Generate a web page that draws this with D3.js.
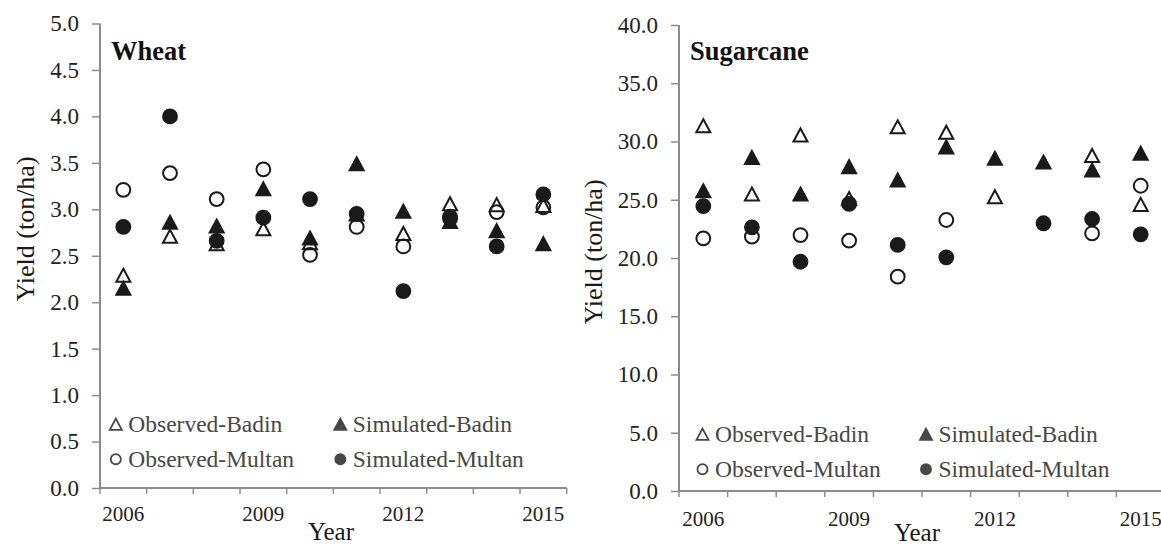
<!DOCTYPE html>
<html>
<head>
<meta charset="utf-8">
<style>
  html, body { margin: 0; padding: 0; background: #fff; }
  svg, svg text { font-family: "Liberation Serif", "Times New Roman", serif; }
  svg { display: block; }
</style>
</head>
<body>
<svg width="1161" height="544"></svg>
<script src="https://d3js.org/d3.v7.min.js"></script>
<script>

var years = [2006, 2007, 2008, 2009, 2010, 2011, 2012, 2013, 2014, 2015],
    yearLabels = [2006, 2009, 2012, 2015];

var seriesNames = ["Observed-Badin", "Simulated-Badin", "Observed-Multan", "Simulated-Multan"];

// Wheat yields (ton/ha)
var wheatObsBadin  = [2.29, 2.71, 2.63, 2.79, 2.64, 2.95, 2.74, 3.06, 3.05, 3.04],
    wheatSimBadin  = [2.15, 2.86, 2.82, 3.22, 2.69, 3.49, 2.98, 2.87, 2.77, 2.63],
    wheatObsMultan = [3.21, 3.39, 3.11, 3.43, 2.51, 2.81, 2.60, 2.92, 2.97, 3.02],
    wheatSimMultan = [2.81, 4.00, 2.66, 2.91, 3.11, 2.95, 2.12, 2.90, 2.60, 3.16];

// Sugarcane yields (ton/ha)
var caneObsBadin  = [31.35, 25.49, 30.56, 25.1, 31.26, 30.8, 25.26, null, 28.8, 24.6],
    caneSimBadin  = [25.77, 28.63, 25.49, 27.84, 26.7, 29.53, 28.56, 28.24, 27.55, 29.0],
    caneObsMultan = [21.69, 21.83, 21.97, 21.49, 18.4, 23.26, null, null, 22.12, 26.2],
    caneSimMultan = [24.46, 22.63, 19.68, 24.64, 21.12, 20.06, null, 22.98, 23.35, 22.03];

var wheatTicks = d3.range(0, 5.01, 0.5),
    caneTicks = d3.range(0, 40.1, 5);

var svg = d3.select("svg");

var serif = "'Liberation Serif', 'Times New Roman', serif",
    axisColor = "#8c8c8c",
    markColor = "#1a1a1a",
    legendColor = "#474747";

// triangle centred on its bounding box, like the spreadsheet marker
var triangle = {
  draw: function(context, size) {
    var w = Math.sqrt(size), h = w * 0.93;
    context.moveTo(0, -h / 2);
    context.lineTo(w / 2, h / 2);
    context.lineTo(-w / 2, h / 2);
    context.closePath();
  }
};

function drawPanel(p) {
  var g = svg.append("g");

  var x = d3.scaleBand().domain(years).range([p.left, p.right]);
  var y = d3.scaleLinear().domain([0, p.max]).range([p.bottom, p.top]);

  var series = [
    {name: seriesNames[0], values: p.obsBadin,  shape: "tri",    filled: false},
    {name: seriesNames[1], values: p.simBadin,  shape: "tri",    filled: true},
    {name: seriesNames[2], values: p.obsMultan, shape: "circle", filled: false},
    {name: seriesNames[3], values: p.simMultan, shape: "circle", filled: true}
  ];

  // y axis
  var ya = g.append("g")
      .attr("transform", "translate(" + p.left + ",0)")
      .call(d3.axisLeft(y).tickValues(p.ticks).tickFormat(d3.format(".1f")).tickSize(8).tickPadding(13))
      .attr("font-family", serif);
  ya.select(".domain").attr("stroke", axisColor).attr("stroke-width", 2)
      .attr("d", "M0," + p.top + "V" + p.bottom);
  ya.selectAll(".tick line").attr("stroke", axisColor).attr("stroke-width", 1.5);
  ya.selectAll(".tick text").attr("fill", "#222").attr("font-size", 23)
      .style("font-family", serif);

  // x axis: labels under every third year, ticks on category boundaries
  var xa = g.append("g")
      .attr("transform", "translate(0," + p.bottom + ")")
      .call(d3.axisBottom(x).tickValues(yearLabels).tickSize(0).tickPadding(p.xPad))
      .attr("font-family", serif);
  xa.select(".domain").attr("stroke", axisColor).attr("stroke-width", 2)
      .attr("d", "M" + p.left + ",0H" + p.right);
  xa.selectAll(".tick text").attr("fill", "#222").attr("font-size", 21)
      .style("font-family", serif);
  xa.selectAll(".bound")
    .data(years.map(function(d) { return x(d); }).concat([x.range()[1]]))
    .enter().append("line")
      .attr("class", "bound")
      .attr("x1", function(d) { return d; })
      .attr("x2", function(d) { return d; })
      .attr("y1", 0)
      .attr("y2", 6)
      .attr("stroke", axisColor)
      .attr("stroke-width", 1.5);

  // axis titles
  g.append("text")
      .attr("transform", "translate(" + p.ylabX + "," + p.ylabY + ") rotate(-90)")
      .attr("text-anchor", "middle")
      .attr("dy", "0.35em")
      .attr("font-size", 26)
      .attr("fill", "#1a1a1a")
      .style("font-family", serif)
      .text("Yield (ton/ha)");

  g.append("text")
      .attr("x", p.xlabX)
      .attr("y", p.xlabY)
      .attr("text-anchor", "middle")
      .attr("font-size", 25)
      .attr("fill", "#1a1a1a")
      .style("font-family", serif)
      .text("Year");

  g.append("text")
      .attr("x", p.left + 11)
      .attr("y", 60)
      .attr("font-size", 26.5)
      .attr("font-weight", "bold")
      .attr("fill", "#111")
      .style("font-family", serif)
      .text(p.title);

  // markers
  var cx = function(i) { return x(years[i]) + x.bandwidth() / 2; };

  series.forEach(function(s) {
    var pts = s.values.map(function(v, i) { return {v: v, i: i}; })
        .filter(function(d) { return d.v != null; });
    var sym = d3.symbol().type(s.shape === "tri" ? triangle : d3.symbolCircle)
        .size(s.shape === "tri" ? 196 : 150);
    g.append("g").selectAll("path")
      .data(pts)
      .enter().append("path")
        .attr("transform", function(d) { return "translate(" + cx(d.i) + "," + y(d.v) + ")"; })
        .attr("d", sym)
        .attr("fill", s.filled ? markColor : "none")
        .attr("stroke", markColor)
        .attr("stroke-width", 2);
  });

  // legend, two columns by two rows
  var leg = g.append("g").selectAll("g")
    .data(series)
    .enter().append("g")
      .attr("transform", function(d, i) {
        var col = i % 2, row = Math.floor(i / 2);
        return "translate(" + p.legX[col] + "," + p.legY[row] + ")";
      });

  leg.append("path")
      .attr("d", function(d) {
        return d3.symbol().type(d.shape === "tri" ? triangle : d3.symbolCircle)
            .size(d.shape === "tri" ? 144 : 80)();
      })
      .attr("fill", function(d) { return d.filled ? legendColor : "none"; })
      .attr("stroke", legendColor)
      .attr("stroke-width", 1.8);

  leg.append("text")
      .attr("x", 12.5)
      .attr("y", 7.5)
      .attr("font-size", 23.5)
      .attr("fill", legendColor)
      .style("font-family", serif)
      .text(function(d) { return d.name; });
}

drawPanel({
  title: "Wheat", max: 5, ticks: wheatTicks,
  left: 100, right: 566.7, top: 23.5, bottom: 488,
  obsBadin: wheatObsBadin, simBadin: wheatSimBadin,
  obsMultan: wheatObsMultan, simMultan: wheatSimMultan,
  xPad: 18, ylabX: 25, ylabY: 229, xlabX: 331, xlabY: 540,
  legX: [115.8, 340.3], legY: [424.2, 459.2]
});

drawPanel({
  title: "Sugarcane", max: 40, ticks: caneTicks,
  left: 679, right: 1165, top: 25, bottom: 491,
  obsBadin: caneObsBadin, simBadin: caneSimBadin,
  obsMultan: caneObsMultan, simMultan: caneSimMultan,
  xPad: 20, ylabX: 593, ylabY: 252, xlabX: 917, xlabY: 541,
  legX: [702.5, 926], legY: [434.2, 469.2]
});

</script>
</body>
</html>
